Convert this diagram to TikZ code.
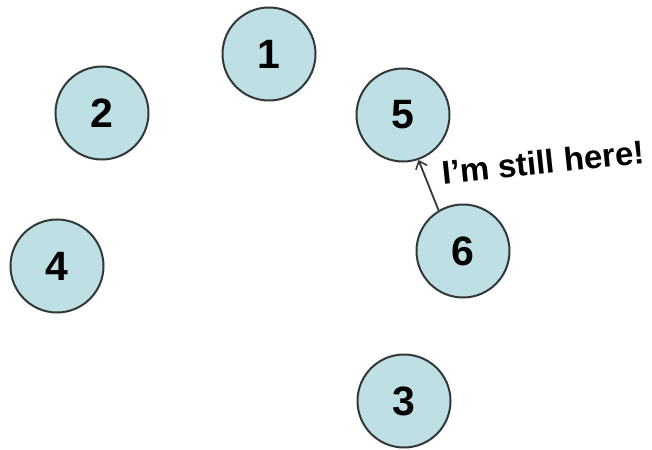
\documentclass[tikz,border=0pt]{standalone}
\usepackage{fontspec}
\setmainfont{Liberation Sans}
\usetikzlibrary{arrows.meta}
\definecolor{peerfill}{RGB}{190,224,228}
\definecolor{peerline}{RGB}{50,56,56}
\begin{document}
\begin{tikzpicture}[x=1pt, y=-1pt,
    peer/.style={circle, draw=peerline, line width=2pt, fill=peerfill,
        minimum size=93pt, inner sep=0pt, font=\fontsize{41}{41}\selectfont\bfseries},
    every node/.style={text=black}]
    \useasboundingbox (0,0) rectangle (652,449);

    % Knoten
    \node[peer] (n1) at (269,54)  {1};
    \node[peer] (n2) at (102,113) {2};
    \node[peer] (n5) at (403,115) {5};
    \node[peer] (n4) at (57,266)  {4};
    \node[peer] (n6) at (463,251) {6};
    \node[peer] (n3) at (404,401) {3};

    % Pfeil von 6 nach 5
    \draw[-{Straight Barb[length=7pt,width=12pt,line width=1.6pt]}, line width=1.8pt, peerline]
        (n6.121) -- (n5.-71);
    \node[rotate=6, inner sep=0pt, font=\fontsize{33}{33}\selectfont\bfseries] (msg) at (543,162) {I’m still here!};
\end{tikzpicture}
\end{document}
